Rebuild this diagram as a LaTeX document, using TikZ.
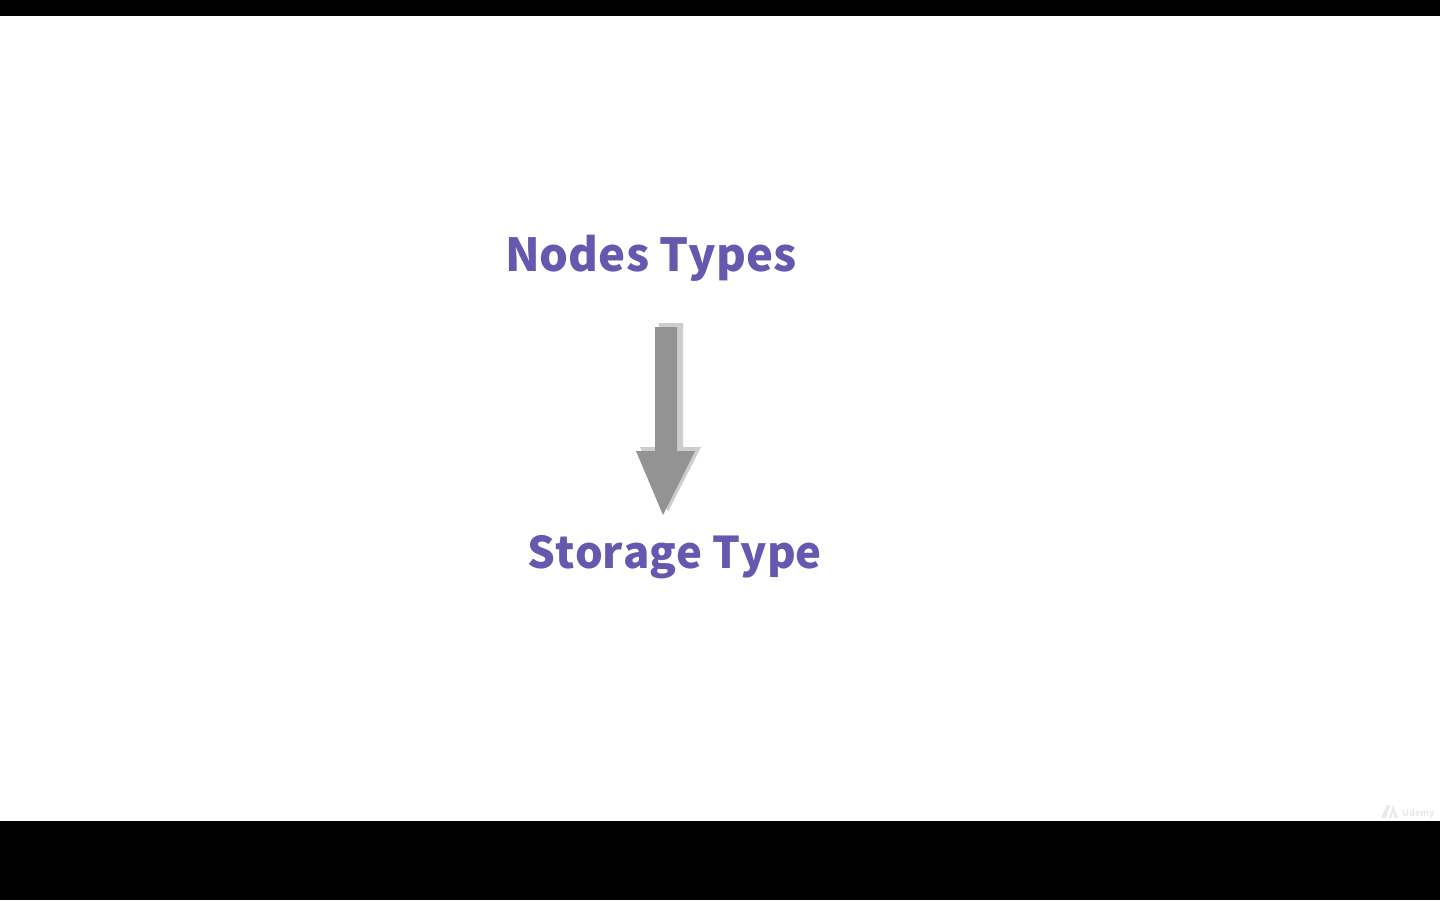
\documentclass[tikz,border=0pt]{standalone}
\usepackage{fontspec}
\setmainfont{Noto Sans CJK JP}[BoldFont={* Black},Kerning=Off]
\definecolor{labelpurple}{HTML}{6658AE}
\definecolor{arrowgrey}{HTML}{939393}
\definecolor{arrowshade}{HTML}{CDCDCD}
\definecolor{markgrey}{HTML}{E9E9E9}
\tikzset{
  x=1pt,y=-1pt,
  bar/.style={fill=black,draw=none},
  heading/.style={text=labelpurple,font=\fontsize{#1}{50}\selectfont\bfseries,inner sep=0pt,anchor=base west},
  markfont/.style={text=markgrey,font=\fontsize{9}{11}\selectfont\bfseries,inner sep=0pt,anchor=base west},
}
\begin{document}
\begin{tikzpicture}
\useasboundingbox (0,0) rectangle (1440,900);
\fill[white] (0,0) rectangle (1440,900);
\fill[bar] (0,0) rectangle (1440,16);
\fill[bar] (0,821) rectangle (1440,900);
\node[heading=45.5] (nodes) at (505,271) {Nodes Types};
\node[heading=43.7] (storage) at (527.5,568.5) {Storage Type};
% shade of the block arrow
\fill[arrowshade] (659,323) -- (683,323) -- (683,447) -- (701,447) -- (668,512) -- (640,447) -- (659,447) -- cycle;
% block arrow
\fill[arrowgrey] (655,327) -- (677,327) -- (677,451) -- (695,451) -- (663,515) -- (636,451) -- (655,451) -- cycle;
% watermark
\fill[markgrey] (1381,818) -- (1387,805) -- (1390,805) -- (1386,818) -- cycle;
\fill[markgrey] (1389,818) -- (1393,805) -- (1398,818) -- (1395,818) -- (1393,812) -- (1391,818) -- cycle;
\node[markfont] (mark) at (1402,816) {Udemy};
\end{tikzpicture}
\end{document}
